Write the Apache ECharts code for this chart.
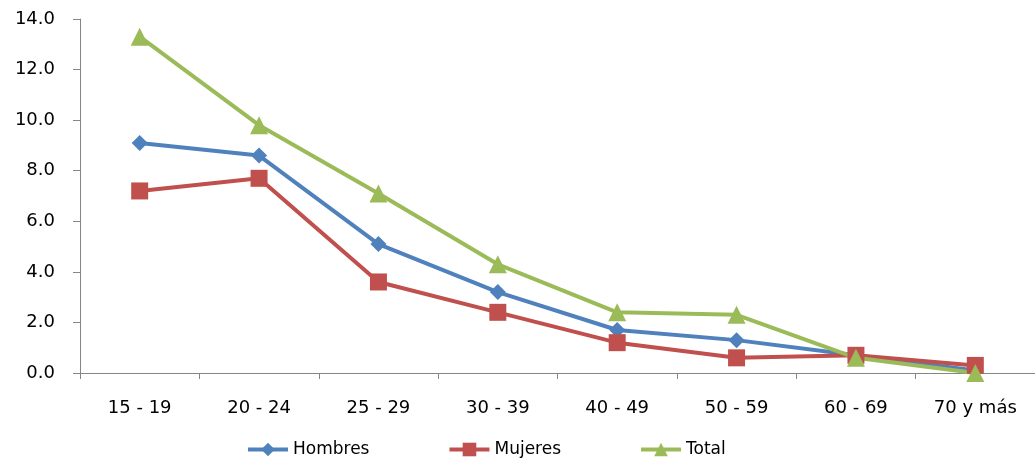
<!DOCTYPE html>
<html><head><meta charset="utf-8">
<script src="https://cdn.jsdelivr.net/npm/echarts@6/dist/echarts.min.js"></script>
<style>html,body{margin:0;padding:0;background:#fff}#c{width:1035px;height:459px}</style>
</head><body><div id="c"></div>
<script>
const categories = ['15 - 19','20 - 24','25 - 29','30 - 39','40 - 49','50 - 59','60 - 69','70 y más'];
const hombres = [9.1, 8.6, 5.1, 3.2, 1.7, 1.3, 0.7, 0.1];
const mujeres = [7.2, 7.7, 3.6, 2.4, 1.2, 0.6, 0.7, 0.3];
const total   = [13.3, 9.8, 7.1, 4.3, 2.4, 2.3, 0.6, 0.0];
const yTicks = {min: 0, max: 14, interval: 2};

const font = 'DejaVu Sans';
const chart = echarts.init(document.getElementById('c'));
function mk(name, data, color, symbol, size){
  return {name, type:'line', data, symbol, symbolSize:size,
    lineStyle:{color, width:4}, itemStyle:{color}, z: 2};
}
chart.setOption({
  animation:false,
  textStyle:{fontFamily:font},
  grid:{left:80, top:19, width:966, height:354, containLabel:false},
  legend:{left:241, top:436, itemWidth:40, itemHeight:17, itemGap:78,
    lineStyle:{width:4},
    textStyle:{fontFamily:font, fontSize:17, color:'#000'},
    data:['Hombres','Mujeres','Total']},
  xAxis:{type:'category', data:categories, boundaryGap:true,
    axisLine:{lineStyle:{color:'#868686', width:1}},
    axisTick:{show:true, length:6, lineStyle:{color:'#868686'}},
    axisLabel:{fontFamily:font, fontSize:18, color:'#000', margin:26}},
  yAxis:{type:'value', min:yTicks.min, max:yTicks.max, interval:yTicks.interval,
    splitLine:{show:false},
    axisLine:{show:true, lineStyle:{color:'#868686', width:1}},
    axisTick:{show:true, length:7, lineStyle:{color:'#868686'}},
    axisLabel:{fontFamily:font, fontSize:18, color:'#000', margin:25,
      formatter:v=>v.toFixed(1)}},
  series:[
    mk('Hombres', hombres, '#4F81BD', 'diamond', 16),
    mk('Mujeres', mujeres, '#C0504D', 'rect', 17),
    mk('Total', total, '#9BBB59', 'triangle', 18)
  ]
});
</script></body></html>
